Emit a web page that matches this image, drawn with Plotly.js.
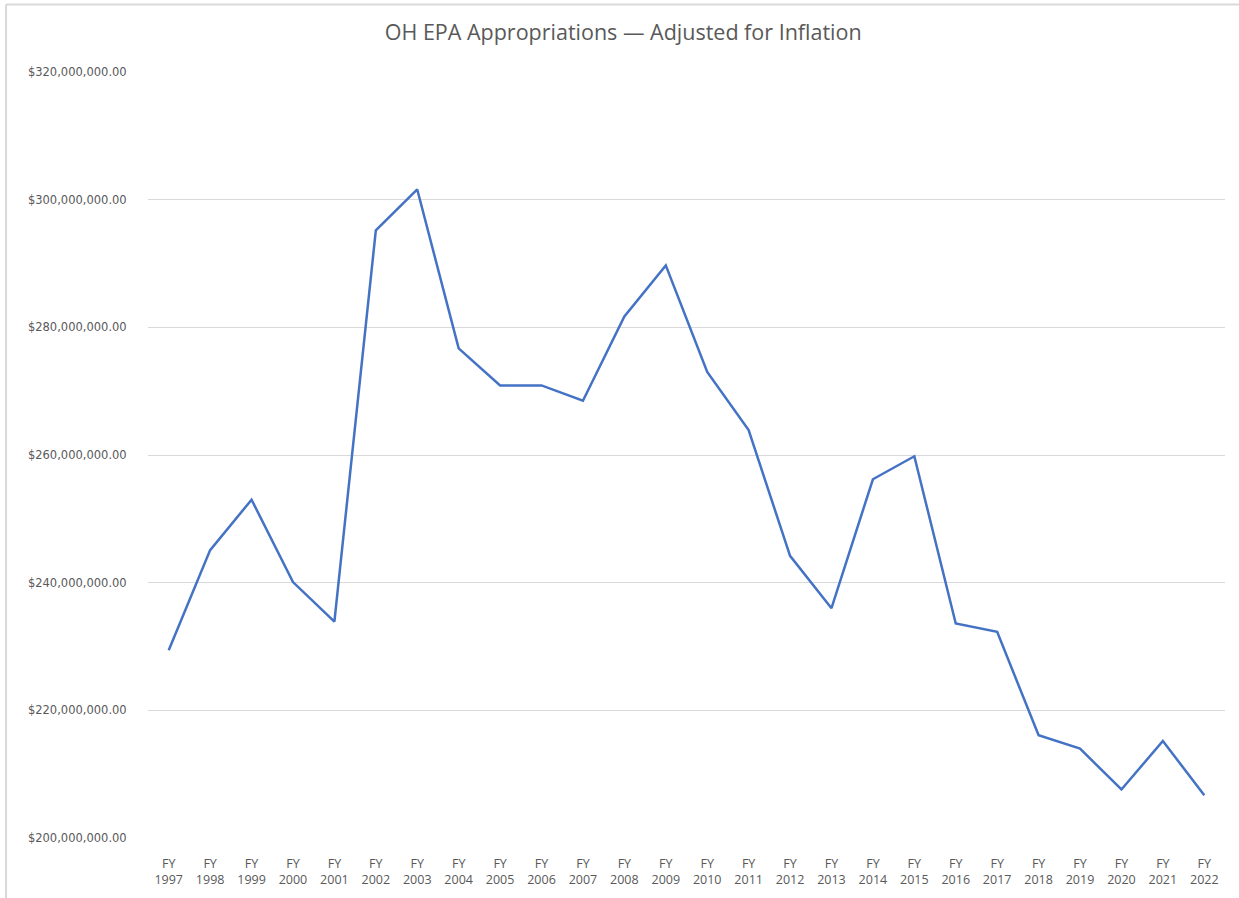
<!DOCTYPE html>
<html>
<head>
<meta charset="utf-8">
<script src="https://cdn.plot.ly/plotly-3.0.1.min.js"></script>
<style>
  html, body { margin: 0; padding: 0; background: #ffffff; }
  #chart { width: 1239px; height: 898px; }
</style>
</head>
<body>
<div id="chart"></div>
<script>
const years = ["1997","1998","1999","2000","2001","2002","2003","2004","2005","2006","2007","2008","2009","2010","2011","2012","2013","2014","2015","2016","2017","2018","2019","2020","2021","2022"];
const categoryLabels = years.map(y => "FY<br>" + y);
const appropriations = [
  229.4e6, 245.1e6, 253.0e6, 240.1e6, 233.9e6, 295.2e6, 301.6e6, 276.7e6, 270.9e6, 270.9e6,
  268.5e6, 281.7e6, 289.7e6, 273.0e6, 263.9e6, 244.2e6, 236.0e6, 256.2e6, 259.8e6, 233.6e6,
  232.3e6, 216.1e6, 214.0e6, 207.6e6, 215.2e6, 206.7e6
];
const yTicks = [200e6, 220e6, 240e6, 260e6, 280e6, 300e6, 320e6];

const trace = {
  type: "scatter",
  mode: "lines",
  x: categoryLabels,
  y: appropriations,
  line: { color: "#4472C4", width: 2.5 },
  hoverinfo: "x+y"
};

const layout = {
  width: 1239,
  height: 898,
  paper_bgcolor: "#ffffff",
  plot_bgcolor: "#ffffff",
  margin: { l: 148, r: 14, t: 72, b: 60 },
  showlegend: false,
  title: {
    text: "OH EPA Appropriations — Adjusted for Inflation",
    font: { family: "Open Sans, sans-serif", size: 21.5, color: "#595959" },
    x: 0.503,
    xanchor: "center",
    y: 0.964,
    yanchor: "middle"
  },
  xaxis: {
    type: "category",
    range: [-0.5, 25.5],
    showgrid: false,
    zeroline: false,
    showline: false,
    ticks: "outside",
    ticklen: 14,
    tickcolor: "rgba(0,0,0,0)",
    tickfont: { family: "Open Sans, sans-serif", size: 12.5, color: "#595959" },
    fixedrange: true
  },
  yaxis: {
    range: [200e6, 320e6],
    tickvals: yTicks,
    tickformat: "$,.2f",
    showgrid: true,
    gridcolor: "#d9d9d9",
    gridwidth: 1,
    zeroline: false,
    showline: false,
    ticks: "outside",
    ticklen: 18,
    tickcolor: "rgba(0,0,0,0)",
    tickfont: { family: "DejaVu Sans, sans-serif", size: 11.5, color: "#595959" },
    fixedrange: true
  },
  shapes: [
    { type: "line", xref: "paper", yref: "paper", x0: -0.1318, x1: -0.1318, y0: 1.088, y1: -0.08,
      line: { color: "#d9d9d9", width: 2 } },
    { type: "line", xref: "paper", yref: "paper", x0: -0.1318, x1: 1.02, y0: 1.088, y1: 1.088,
      line: { color: "#d9d9d9", width: 2 } }
  ]
};

Plotly.newPlot("chart", [trace], layout, { displayModeBar: false, staticPlot: true });
</script>
</body>
</html>
